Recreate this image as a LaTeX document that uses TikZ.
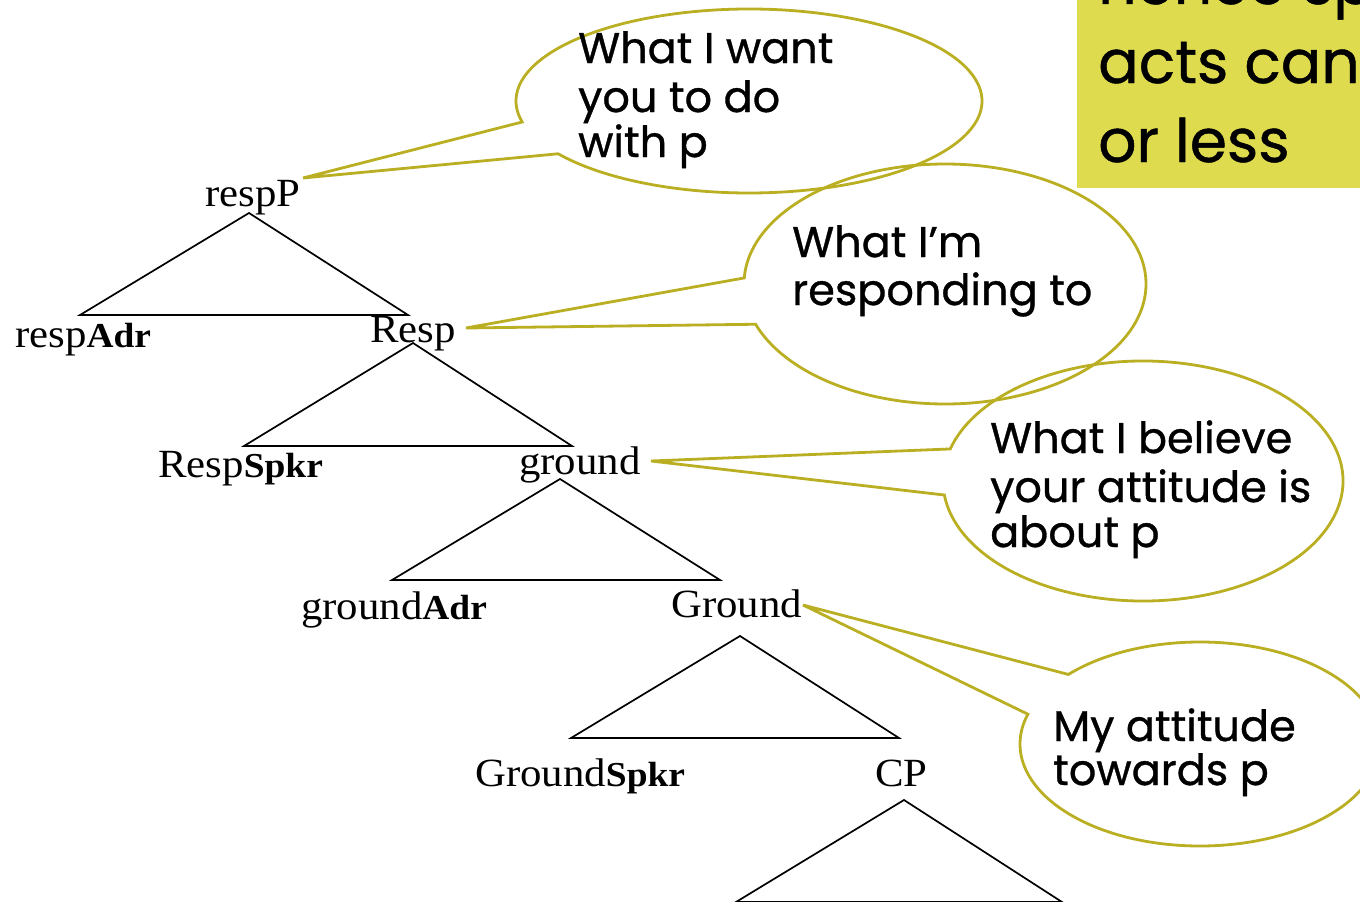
\documentclass[tikz,border=0pt]{standalone}
\usepackage{fontspec}
\newfontfamily\treefont{Liberation Serif}[FakeStretch=1.07]
\newfontfamily\handfont{Poppins}[FakeBold=0.8]
\definecolor{calloutline}{RGB}{186,174,34}
\definecolor{notefill}{RGB}{222,219,78}
\newcommand{\subpart}[1]{{\fontsize{35}{35}\selectfont\bfseries #1}}
\begin{document}
\begin{tikzpicture}[x=1pt,y=-1pt,
  treelabel/.style={anchor=base west,inner sep=0pt,font=\treefont\fontsize{40}{40}\selectfont},
  treeline/.style={draw=black,line width=1.7pt,line join=miter},
  callout/.style={draw=calloutline,line width=2.8pt,line join=miter},
  hand/.style={anchor=base west,inner sep=0pt,font=\handfont\fontsize{43}{43}\selectfont},
  notetext/.style={anchor=base west,inner sep=0pt,font=\handfont\fontsize{60}{60}\selectfont}]
\useasboundingbox (0,0) rectangle (1360,902);
\clip (0,0) rectangle (1360,902);

% sticky note in the corner
\fill[notefill] (1077,-5) rectangle (1370,188);
\node[notetext] (note1) at (1098,4) {hence speech};
\node[notetext] (note2) at (1098,83) {acts can};
\node[notetext] (note3) at (1098,162) {or less};

% tree labels
\node[treelabel] (respP) at (205,206) {respP};
\node[treelabel] (respAdr) at (15,347) {resp\subpart{Adr}};
\node[treelabel] (Resp) at (370,342) {Resp};
\node[treelabel] (RespSpkr) at (158,477) {Resp\subpart{Spkr}};
\node[treelabel] (ground) at (519,474) {ground};
\node[treelabel] (groundAdr) at (301,619) {ground\subpart{Adr}};
\node[treelabel] (Ground) at (671,617) {Ground};
\node[treelabel] (GroundSpkr) at (475,786) {Ground\subpart{Spkr}};
\node[treelabel] (CP) at (875,786) {CP};

% triangles
\draw[treeline] (249,213) -- (80,315) -- (408,315) -- cycle;
\draw[treeline] (413,343) -- (244,446) -- (572,446) -- cycle;
\draw[treeline] (560,479) -- (392,580) -- (720,580) -- cycle;
\draw[treeline] (740,636) -- (571,738) -- (899,738) -- cycle;
\draw[treeline] (904,800) -- (736,902) -- (1062,902) -- cycle;

% speech bubbles
\draw[callout] (749,101) ++(166.8:233 and 92)
  arc[start angle=166.8,end angle=505,x radius=233,y radius=92] -- (303,178) -- cycle;
\draw[callout] (945,284) ++(182.9:201 and 120)
  arc[start angle=182.9,end angle=520.4,x radius=201,y radius=120] -- (466,328) -- cycle;
\draw[callout] (1143,481) ++(195.5:200 and 120)
  arc[start angle=195.5,end angle=533.3,x radius=200,y radius=120] -- (651,461) -- cycle;
\draw[callout] (1200,744) ++(223:180 and 102)
  arc[start angle=223,end angle=557,x radius=180,y radius=102] -- (803,605) -- cycle;

% bubble texts
\node[hand] (b1a) at (578,63) {What I want};
\node[hand] (b1b) at (578,112) {you to do};
\node[hand] (b1c) at (578,157) {with p};
\node[hand] (b2a) at (792,257) {What I’m};
\node[hand] (b2b) at (792,305) {responding to};
\node[hand] (b3a) at (990,453) {What I believe};
\node[hand] (b3b) at (990,502) {your attitude is};
\node[hand] (b3c) at (990,547) {about p};
\node[hand] (b4a) at (1053,741) {My attitude};
\node[hand] (b4b) at (1053,785) {towards p};
\end{tikzpicture}
\end{document}
